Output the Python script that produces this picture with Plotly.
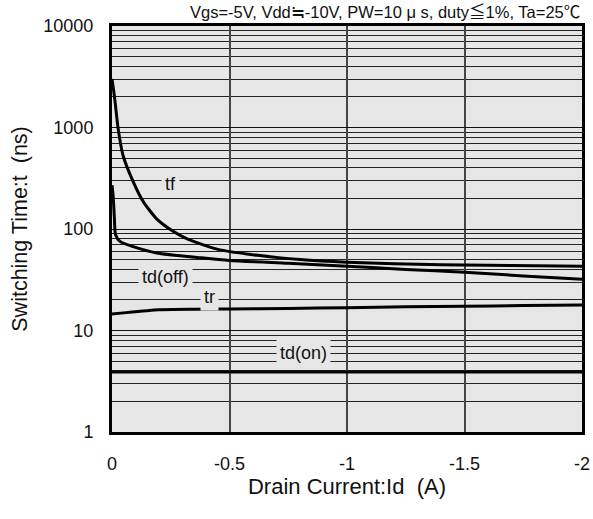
import plotly.graph_objects as go
import math

# ---- data ----
tf_id = [0, -0.005, -0.013, -0.026, -0.047, -0.09, -0.133, -0.19, -0.26, -0.32,
         -0.45, -0.62, -0.8, -1.0, -1.2, -1.4, -1.6, -1.8, -2.0]
tf_t = [3000, 2500, 1800, 980, 530, 293, 186, 126, 95, 80,
        63, 55, 50, 47, 45.5, 44.5, 44, 43.5, 43]

tdoff_id = [0, -0.005, -0.01, -0.015, -0.035, -0.09, -0.19, -0.38, -0.5,
            -0.75, -1.0, -1.25, -1.5, -1.75, -2.0]
tdoff_t = [270, 210, 130, 88, 75, 67, 58, 52, 49,
           46, 43, 40, 37.5, 34.5, 32]

tr_id = [0, -0.06, -0.2, -0.35, -0.5, -0.75, -1.0, -1.25, -1.5, -1.75, -2.0]
tr_t = [14.5, 15, 16, 16.2, 16.3, 16.5, 16.8, 17.1, 17.3, 17.6, 17.8]

tdon_id = [0, -2.0]
tdon_t = [3.9, 3.9]

x_ticks = [0, -0.5, -1, -1.5, -2]
x_ticktext = ["0", "-0.5", "-1", "-1.5", "-2"]
y_ticks = [1, 10, 100, 1000, 10000]
y_ticktext = ["1", "10", "100", "1000", "10000"]
y_minor = [m * 10 ** d for d in range(4) for m in range(2, 10)]

# label name, Id position, t position
labels = [("tf", -0.25, 279), ("td(off)", -0.227, 33.5),
          ("tr", -0.415, 21.2), ("td(on)", -0.814, 6.05)]

FONT = "Liberation Sans, Arial, Noto Sans CJK JP, sans-serif"
BG = "#e6e6e6"

fig = go.Figure()
for xs, ys in [(tf_id, tf_t), (tdoff_id, tdoff_t), (tr_id, tr_t), (tdon_id, tdon_t)]:
    fig.add_trace(go.Scatter(x=xs, y=ys, mode="lines",
                             line=dict(color="black", width=3, shape="spline", smoothing=0.6),
                             showlegend=False, hoverinfo="skip"))

for name, xv, yv in labels:
    fig.add_annotation(x=xv, y=math.log10(yv), xref="x", yref="y", text=name,
                       showarrow=False, bgcolor=BG,
                       font=dict(family=FONT, size=18, color="#111"),
                       borderpad=3)

fig.add_annotation(x=1.0, y=1.034, xref="paper", yref="paper",
                   text="Vgs=-5V, Vdd≒-10V, PW=10 μ s, duty≦1%, Ta=25℃",
                   showarrow=False, xanchor="right", yanchor="middle",
                   font=dict(family=FONT, size=16.5, color="#111"))

fig.update_xaxes(range=[0, -2], tickvals=x_ticks, ticktext=x_ticktext,
                 showgrid=True, gridcolor="#444", gridwidth=1.5,
                 showline=True, linecolor="black", linewidth=3, mirror=True,
                 ticks="outside", ticklen=13, tickcolor="rgba(0,0,0,0)",
                 zeroline=False, automargin=False,
                 tickfont=dict(family=FONT, size=18, color="#111"),
                 title=dict(text="Drain Current:Id  (A)", standoff=5,
                            font=dict(family=FONT, size=22, color="#111")))
fig.update_yaxes(type="log", range=[0, 4], tickvals=y_ticks, ticktext=y_ticktext,
                 showgrid=True, gridcolor="#111", gridwidth=1,
                 minor=dict(tickvals=y_minor, showgrid=True, gridcolor="#222", gridwidth=1),
                 showline=True, linecolor="black", linewidth=3, mirror=True,
                 ticks="outside", ticklen=12, tickcolor="rgba(0,0,0,0)",
                 automargin=False,
                 tickfont=dict(family=FONT, size=18, color="#111"),
                 title=dict(text="Switching Time:t  (ns)", standoff=10,
                            font=dict(family=FONT, size=21.5, color="#111")))

fig.update_layout(width=593, height=519, paper_bgcolor="white", plot_bgcolor=BG,
                  margin=dict(l=112, r=11, t=26, b=87))

# remove the default 8px page margin so the figure fills the window exactly
fig.write_html("out.html", config={"displayModeBar": False},
               post_script="document.body.style.margin='0';")
